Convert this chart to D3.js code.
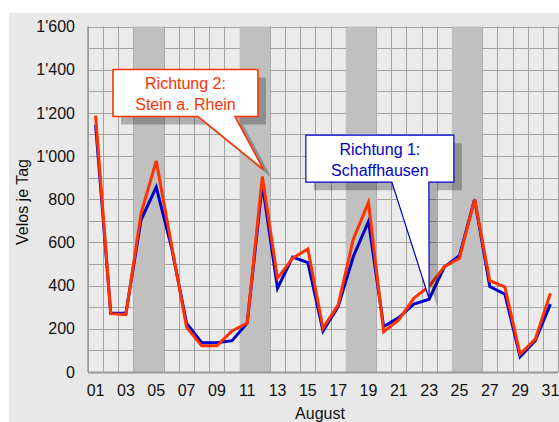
<!DOCTYPE html>
<html><head><meta charset="utf-8">
<script src="https://cdn.jsdelivr.net/npm/d3@7"></script>
<style>body{margin:0;background:#fff}svg{display:block}text{font-family:"Liberation Sans",Arial,sans-serif}</style>
</head><body><svg id="c" width="559" height="422"></svg>
<script>
const days = d3.range(1, 32);
const dayLabels = days.map(d => d % 2 === 1 ? String(d).padStart(2, "0") : "");
const richtung1 = [1145,272,272,705,856,580,226,136,136,145,226,870,388,532,507,190,303,535,697,210,252,315,337,486,538,800,396,360,71,145,314];
const richtung2 = [1187,270,265,735,978,592,207,121,121,190,227,905,434,527,570,203,311,615,785,187,241,342,396,488,527,800,423,393,83,152,365];
const weekends = [4,5,11,12,18,19,25,26];
const yTicks = [0,200,400,600,800,1000,1200,1400,1600];
const yGrid = d3.range(0, 1601, 100);
const callouts = [
  {lines:["Richtung 2:","Stein a. Rhein"], color:"#ff3300", cx:6.93, cy:1292, w:145, h:47, b0:85, b1:122, tipDay:12.08, tipVal:937, sw:1.6},
  {lines:["Richtung 1:","Schaffhausen"], color:"#0000cc", cx:19.75, cy:988, w:148, h:47, b0:86, b1:123, tipDay:23, tipVal:339, sw:1.2}
];

const svg = d3.select("#c");
const L = 88, R = 558, T = 26.5, B = 372;
svg.append("rect").attr("x",9).attr("y",13).attr("width",559-9).attr("height",422-13).attr("fill","#e8e8e8");
svg.append("rect").attr("x",L).attr("y",T).attr("width",R-L).attr("height",B-T).attr("fill","#ebebeb");

const x = d3.scaleBand().domain(days).range([L, R]).padding(0);
const xc = d => x(d) + x.bandwidth()/2;
const xl = d3.scaleLinear().domain([1, 31]).range([xc(1), xc(31)]);
const y = d3.scaleLinear().domain([0, 1600]).range([B, T]);

const g = svg.append("g");
// grid
g.selectAll(".hg").data(yGrid).join("line").attr("x1",L).attr("x2",R)
  .attr("y1",d=>Math.round(y(d))+0.5).attr("y2",d=>Math.round(y(d))+0.5).attr("stroke","#a2a2a2").attr("stroke-width",1);
g.selectAll(".vg").data(days.concat([32])).join("line")
  .attr("x1",d=>Math.round(d===32?R:x(d))+0.5).attr("x2",d=>Math.round(d===32?R:x(d))+0.5)
  .attr("y1",T).attr("y2",B).attr("stroke","#a2a2a2").attr("stroke-width",1);
// weekend bands
g.selectAll(".wk").data(weekends).join("rect").attr("x",d=>x(d)).attr("width",x.bandwidth()+0.3)
  .attr("y",T).attr("height",B-T).attr("fill","#c0c0c0");
// axes lines
g.append("line").attr("x1",L).attr("x2",R).attr("y1",B+0.5).attr("y2",B+0.5).attr("stroke","#999").attr("stroke-width",2);
g.append("line").attr("x1",L).attr("x2",L).attr("y1",T).attr("y2",B).attr("stroke","#999").attr("stroke-width",1.5);

// axes
const fmt = v => v >= 1000 ? Math.floor(v/1000) + "'" + String(v%1000).padStart(3,"0") : String(v);
const yAxis = d3.axisLeft(y).tickValues(yTicks).tickFormat(fmt).tickSize(0).tickPadding(13);
const ya = svg.append("g").attr("transform",`translate(${L},0)`).call(yAxis);
ya.select(".domain").remove();
ya.selectAll("text").attr("font-size",16).attr("fill","#111").attr("font-family","Liberation Sans, Arial, sans-serif");
const xAxis = d3.axisBottom(x).tickFormat((d,i)=>dayLabels[i]).tickSize(0).tickPadding(13);
const xa = svg.append("g").attr("transform",`translate(0,${B})`).call(xAxis);
xa.select(".domain").remove();
xa.selectAll("text").attr("font-size",16).attr("fill","#111").attr("font-family","Liberation Sans, Arial, sans-serif");

svg.append("text").attr("x",320).attr("y",419).attr("text-anchor","middle").attr("font-size",16).attr("fill","#111").text("August");
svg.append("text").attr("transform","translate(28,202) rotate(-90)").attr("text-anchor","middle").attr("font-size",16).attr("fill","#111").text("Velos je Tag");

// lines
const line = d3.line().x((d,i)=>xc(days[i])).y(d=>y(d));
svg.append("path").datum(richtung1).attr("d",line).attr("fill","none").attr("stroke","#0000cc").attr("stroke-width",3).attr("stroke-linejoin","miter");
svg.append("path").datum(richtung2).attr("d",line).attr("fill","none").attr("stroke","#ff3300").attr("stroke-width",3).attr("stroke-linejoin","miter");

// callouts
function calloutPath(c, dx, dy){
  const cx = xl(c.cx), cy = y(c.cy);
  const x0 = cx - c.w/2 + dx, y0 = cy - c.h/2 + dy, x1 = x0 + c.w, y1 = y0 + c.h;
  const tx = xl(c.tipDay) + dx, ty = y(c.tipVal) + dy;
  return `M${x0},${y0}H${x1}V${y1}H${x0+c.b1}L${tx},${ty}L${x0+c.b0},${y1}H${x0}Z`;
}
callouts.forEach(c=>{
  svg.append("path").attr("d",calloutPath(c,8,8)).attr("fill","rgba(0,0,0,0.26)");
});
callouts.forEach(c=>{
  svg.append("path").attr("d",calloutPath(c,0,0)).attr("fill","#fff").attr("stroke",c.color).attr("stroke-width",c.sw).attr("stroke-linejoin","miter");
  const cx = xl(c.cx), cy = y(c.cy);
  c.lines.forEach((t,i)=>{
    svg.append("text").attr("x",cx).attr("y",cy - 4 + i*21).attr("text-anchor","middle").attr("font-size",16).attr("fill",c.color).text(t);
  });
});
</script></body></html>
